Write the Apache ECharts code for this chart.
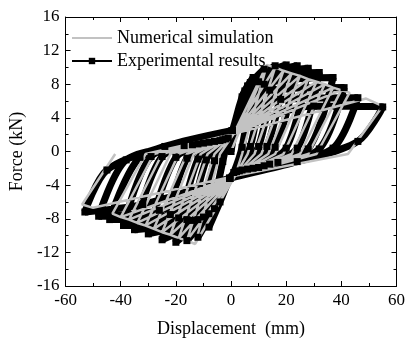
<!DOCTYPE html>
<html>
<head>
<meta charset="utf-8">
<script src="https://cdn.jsdelivr.net/npm/echarts@6/dist/echarts.min.js"></script>
<style>
  html, body { margin: 0; padding: 0; background: #fff; }
  #chart { width: 408px; height: 343px; }
</style>
</head>
<body>
<div id="chart"></div>
<script>
// axes
var xTicks = { min: -60, max: 60, step: 20 };
var yTicks = { min: -16, max: 16, step: 4 };

// numerical simulation
var numPivotUp = [1, 2.1];
var numPivotDown = [1.5, -2.9];
var numPosReachD = [13, 13, 16, 19, 22, 25, 28, 31, 34, 37, 40, 49];
var numPosReachF = [10.3, 10.3, 10.0, 9.6, 9.3, 9.0, 8.6, 8.3, 8.0, 7.6, 7.3, 6.3];
var numPosPeakD = [13, 16, 19, 22, 25, 28, 31, 34, 37, 40, 43, 55];
var numPosPeakF = [10.3, 10.0, 9.6, 9.3, 9.0, 8.6, 8.3, 8.0, 7.6, 7.3, 7.0, 5.4];
var numPosUnloadD = [4, 6, 8.5, 11, 13.5, 16, 19, 22, 25, 28, 31, 42.4];
var numNegReachD = [-13, -13, -16, -19, -22, -25, -28, -31, -34, -37, -40, -50];
var numNegReachF = [-11.0, -11.0, -10.6, -10.3, -9.9, -9.6, -9.2, -8.8, -8.5, -8.1, -7.8, -6.7];
var numNegPeakD = [-13, -16, -19, -22, -25, -28, -31, -34, -37, -40, -43, -54];
var numNegPeakF = [-11.0, -10.6, -10.3, -9.9, -9.6, -9.2, -8.8, -8.5, -8.1, -7.8, -7.4, -6.3];
var numNegUnloadD = [-4, -6, -8.5, -11, -13.5, -16, -19, -22, -25, -28, -31, -42];
var numUnloadF = -0.3;

var expPinchUp = [0.5, 2.5];
var expPinchDown = [-0.5, -3.2];
var expPosMidD = [4, 5, 6, 7, 8, 9, 10, 12, 14, 18, 30];
var expPosMidF = [6.5, 7.2, 7.8, 8.2, 8.5, 8.5, 8.3, 8.0, 7.3, 6.2, 5.4];
var expPosPeakD = [8, 12, 16, 20, 24, 28, 32, 37, 41, 46, 55];
var expPosPeakF = [8.8, 9.8, 10.2, 10.3, 10.2, 9.9, 9.4, 8.8, 7.6, 6.4, 5.3];
var expPosUnloadD = [4, 7, 10, 13, 16, 20, 24, 28, 32, 37, 46];
var expPosUnloadF = [0.5, 0.6, 0.6, 0.6, 0.5, 0.4, 0.4, 0.3, 0.3, 0.4, 1.2];
var expPosTailD = [1, 2, 3, 4, 6, 8, 10, 12, 14, 17, 24];
var expPosTailF = [-2.5, -2.4, -2.3, -2.2, -2.1, -2.0, -1.9, -1.7, -1.5, -1.3, -1.2];
var expNegMidD = [-4, -6, -8, -10, -12, -14, -16, -19, -22, -26, -32];
var expNegMidF = [-6.0, -6.8, -7.4, -7.8, -8.1, -8.2, -8.1, -7.9, -7.5, -7.0, -6.3];
var expNegPeakD = [-8, -12, -16, -20, -25, -30, -35, -39, -44, -48, -53];
var expNegPeakF = [-9.0, -10.2, -10.6, -10.8, -10.5, -9.8, -9.3, -8.8, -8.1, -7.7, -7.2];
var expNegUnloadD = [-3, -6, -9, -12, -16, -20, -25, -29, -33, -38, -45];
var expNegUnloadF = [-1.2, -1.1, -1.0, -0.9, -0.8, -0.7, -0.6, -0.6, -0.7, -1.0, -2.2];
var expNegTailD = [-1, -2, -3, -4, -6, -8, -10, -12, -14, -17, -24];
var expNegTailF = [1.6, 1.5, 1.4, 1.3, 1.2, 1.1, 1.0, 0.9, 0.8, 0.7, 0.6];

var serif = '"Liberation Serif", "Times New Roman", serif';

// build the loading paths, cycle after cycle
var numPath = [[0, 0]];
for (var i = 0; i < numPosPeakD.length; i++) {
  if (i > 0) {
    numPath.push(numPivotUp);
    numPath.push([numPosReachD[i], numPosReachF[i]]);
  }
  numPath.push([numPosPeakD[i], numPosPeakF[i]]);
  numPath.push([numPosUnloadD[i], numUnloadF]);
  numPath.push(numPivotDown);
  if (i > 0) numPath.push([numNegReachD[i], numNegReachF[i]]);
  numPath.push([numNegPeakD[i], numNegPeakF[i]]);
  numPath.push([numNegUnloadD[i], numUnloadF]);
}

var expPath = [[0, 0]];
for (var j = 0; j < expPosPeakD.length; j++) {
  expPath.push([expPosMidD[j], expPosMidF[j]]);
  expPath.push([expPosPeakD[j], expPosPeakF[j]]);
  expPath.push([expPosUnloadD[j], expPosUnloadF[j]]);
  expPath.push([expPosTailD[j], expPosTailF[j]]);
  expPath.push(expPinchDown);
  expPath.push([expNegMidD[j], expNegMidF[j]]);
  expPath.push([expNegPeakD[j], expNegPeakF[j]]);
  expPath.push([expNegUnloadD[j], expNegUnloadF[j]]);
  expPath.push([expNegTailD[j], expNegTailF[j]]);
  expPath.push(expPinchUp);
}

function boxAxis(t, pos, labels) {
  return {
    type: 'value', position: pos, min: t.min, max: t.max, interval: t.step,
    axisLine: { onZero: false, lineStyle: { color: '#000', width: 1 } },
    axisTick: { inside: true, length: 5, lineStyle: { color: '#000' } },
    minorTick: { show: true, splitNumber: 2, length: 3, lineStyle: { color: '#000' } },
    splitLine: { show: false },
    axisLabel: { show: labels, color: '#000', fontSize: 17, fontFamily: serif }
  };
}

var xBottom = boxAxis(xTicks, 'bottom', true);
xBottom.axisLabel.margin = 6;
xBottom.name = 'Displacement  (mm)';
xBottom.nameLocation = 'middle';
xBottom.nameGap = 34;
xBottom.nameTextStyle = { color: '#000', fontSize: 18, fontFamily: serif };
var yLeft = boxAxis(yTicks, 'left', true);
yLeft.axisLabel.margin = 6;
yLeft.name = 'Force (kN)';
yLeft.nameLocation = 'middle';
yLeft.nameGap = 34;
yLeft.nameTextStyle = { color: '#000', fontSize: 18, fontFamily: serif };

var chart = echarts.init(document.getElementById('chart'));
chart.setOption({
  animation: false,
  grid: { left: 61, right: 8, top: 17, bottom: 53 },
  legend: {
    orient: 'vertical', left: 66, top: 24,
    itemWidth: 40, itemHeight: 8, itemGap: 5,
    textStyle: { color: '#000', fontSize: 18, fontFamily: serif },
    data: [
      { name: 'Numerical simulation', itemStyle: { opacity: 0 } },
      'Experimental results'
    ]
  },
  xAxis: [xBottom, boxAxis(xTicks, 'top', false)],
  yAxis: [yLeft, boxAxis(yTicks, 'right', false)],
  series: [
    {
      name: 'Experimental results', type: 'line', data: expPath,
      smooth: 0.3, symbol: 'rect', symbolSize: 7,
      lineStyle: { color: '#000', width: 7 },
      itemStyle: { color: '#000' }
    },
    {
      name: 'Numerical simulation', type: 'line', data: numPath,
      symbol: 'none', z: 3,
      lineStyle: { color: '#c2c2c2', width: 2.5 },
      itemStyle: { color: '#c2c2c2' }
    }
  ]
});
</script>
</body>
</html>
